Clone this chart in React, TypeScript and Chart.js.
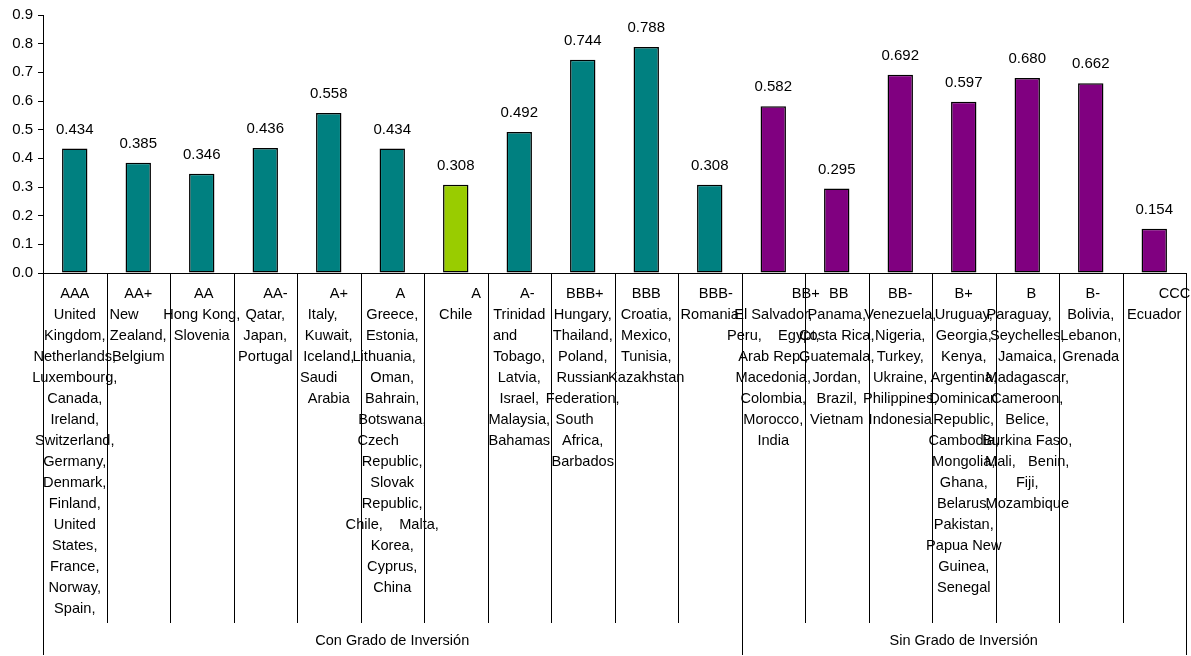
import React, { useEffect, useRef } from 'react';
import { Chart, registerables } from 'chart.js';

Chart.register(...registerables);

// ---- Data ----
const ratings = [
  'AAA', 'AA+', ' AA', '     AA-', '     A+', '    A',
  '          A', '    A-', ' BBB+', 'BBB', '   BBB-',
  '                BB+', ' BB', 'BB-', 'B+', '  B', ' B-', '          CCC',
];

const countries: string[][] = [
  ['United', 'Kingdom,', 'Netherlands,', 'Luxembourg,', 'Canada,', 'Ireland,', 'Switzerland,', 'Germany,', 'Denmark,', 'Finland,', 'United', 'States,', 'France,', 'Norway,', 'Spain,'],
  ['New       ', 'Zealand,', 'Belgium'],
  ['Hong Kong,', 'Slovenia'],
  ['Qatar,', 'Japan,', 'Portugal'],
  ['Italy,   ', 'Kuwait,', 'Iceland,', 'Saudi     ', 'Arabia'],
  ['Greece,', 'Estonia,', 'Lithuania,    ', 'Oman,', 'Bahrain,', 'Botswana,', 'Czech       ', 'Republic,', 'Slovak', 'Republic,', 'Chile,    Malta,', 'Korea,', 'Cyprus,', 'China'],
  ['Chile'],
  ['Trinidad', 'and       ', 'Tobago,', 'Latvia,', 'Israel,', 'Malaysia,', 'Bahamas'],
  ['Hungary,', 'Thailand,', 'Poland,', 'Russian', 'Federation,', 'South    ', 'Africa,', 'Barbados'],
  ['Croatia,', 'Mexico,', 'Tunisia,', 'Kazakhstan'],
  ['Romania'],
  ['El Salvador,', 'Peru,    Egypt,', 'Arab Rep.,', 'Macedonia,', 'Colombia,', 'Morocco,', 'India'],
  ['Panama,', 'Costa Rica,', 'Guatemala,', 'Jordan,', 'Brazil,', 'Vietnam'],
  ['Venezuela,', 'Nigeria,', 'Turkey,', 'Ukraine,', 'Philippines,', 'Indonesia'],
  ['Uruguay,', 'Georgia,', 'Kenya,', 'Argentina,', 'Dominican', 'Republic,', 'Cambodia,', 'Mongolia,', 'Ghana,', 'Belarus,', 'Pakistan,', 'Papua New', 'Guinea,', 'Senegal'],
  ['Paraguay,    ', 'Seychelles,', 'Jamaica,', 'Madagascar,', 'Cameroon,', 'Belice,', 'Burkina Faso,', 'Mali,   Benin,', 'Fiji,', 'Mozambique'],
  ['Bolivia,', 'Lebanon,', 'Grenada'],
  ['Ecuador'],
];

const values = [
  0.434, 0.385, 0.346, 0.436, 0.558, 0.434, 0.308, 0.492, 0.744, 0.788, 0.308,
  0.582, 0.295, 0.692, 0.597, 0.680, 0.662, 0.154,
];

const TEAL = '#008080';
const LIME = '#99CC00';
const PURPLE = '#800080';
const barColors = [
  TEAL, TEAL, TEAL, TEAL, TEAL, TEAL, LIME, TEAL, TEAL, TEAL, TEAL,
  PURPLE, PURPLE, PURPLE, PURPLE, PURPLE, PURPLE, PURPLE,
];

const groupNames = ['Con Grado de Inversión', 'Sin Grado de Inversión'];
const groupSizes = [11, 7];

const FONT = '"Liberation Sans", Arial, sans-serif';

export default function App() {
  const ref = useRef<HTMLCanvasElement>(null);

  useEffect(() => {
    document.body.style.margin = '0';
    if (!ref.current) return;

    const labels = ratings.map((r, i) => [r, ...countries[i]]);

    const valueLabels = {
      id: 'valueLabels',
      afterDatasetsDraw(chart: any) {
        const ctx = chart.ctx;
        const meta = chart.getDatasetMeta(0);
        ctx.save();
        ctx.font = `15px ${FONT}`;
        ctx.fillStyle = '#000';
        ctx.textAlign = 'center';
        ctx.textBaseline = 'middle';
        meta.data.forEach((bar: any, i: number) => {
          ctx.fillText(values[i].toFixed(3), bar.x, bar.y - 19);
        });
        ctx.restore();
      },
    };

    const categoryFrame = {
      id: 'categoryFrame',
      afterDraw(chart: any) {
        const ctx = chart.ctx;
        const xs = chart.scales.x;
        const area = chart.chartArea;
        const n = ratings.length;
        const step = xs.getPixelForValue(1) - xs.getPixelForValue(0);
        const edge = (i: number) => xs.getPixelForValue(i) - step / 2;
        const groupEdges = [0];
        let acc = 0;
        groupSizes.forEach((s) => {
          acc += s;
          groupEdges.push(acc);
        });
        ctx.save();
        ctx.strokeStyle = '#000';
        ctx.lineWidth = 1;
        ctx.beginPath();
        for (let i = 0; i <= n; i++) {
          const px = Math.round(edge(i)) + 0.5;
          const isGroup = groupEdges.includes(i);
          ctx.moveTo(px, area.bottom);
          ctx.lineTo(px, isGroup ? area.bottom + 382 : area.bottom + 350);
        }
        ctx.stroke();
        ctx.font = `14.5px ${FONT}`;
        ctx.fillStyle = '#000';
        ctx.textAlign = 'center';
        ctx.textBaseline = 'middle';
        for (let g = 0; g < groupNames.length; g++) {
          const cx = (edge(groupEdges[g]) + edge(groupEdges[g + 1])) / 2;
          ctx.fillText(groupNames[g], cx, area.bottom + 368);
        }
        ctx.restore();
      },
    };

    const chart = new Chart(ref.current, {
      type: 'bar',
      data: {
        labels,
        datasets: [
          {
            data: values,
            backgroundColor: barColors,
            borderColor: '#000',
            borderWidth: 1.5,
            borderSkipped: false,
            barPercentage: 0.4,
            categoryPercentage: 1,
          },
        ],
      },
      options: {
        responsive: false,
        animation: false,
        devicePixelRatio: 1,
        layout: { padding: { top: 15, right: 5, left: 0, bottom: 0 } },
        plugins: {
          legend: { display: false },
          tooltip: { enabled: false },
        },
        scales: {
          x: {
            grid: { display: false, drawTicks: false },
            border: { display: true, color: '#000', width: 1 },
            ticks: {
              autoSkip: false,
              maxRotation: 0,
              minRotation: 0,
              padding: 10.5,
              color: '#000',
              font: { family: FONT, size: 14.6, lineHeight: 21 / 14.6 },
            },
            afterFit: (s: any) => {
              s.height = 383;
              s.paddingLeft = 0;
              s.paddingRight = 0;
            },
          },
          y: {
            min: 0,
            max: 0.9,
            grid: {
              display: true,
              drawOnChartArea: false,
              drawTicks: true,
              tickLength: 5,
              tickColor: '#000',
            },
            border: { display: true, color: '#000', width: 1 },
            ticks: {
              stepSize: 0.1,
              padding: 5,
              color: '#000',
              font: { family: FONT, size: 15 },
              callback: (v: any) => Number(v).toFixed(1),
            },
            afterFit: (s: any) => {
              s.width = 43;
            },
          },
        },
      },
      plugins: [valueLabels, categoryFrame],
    });

    return () => chart.destroy();
  }, []);

  return (
    <div style={{ width: 1191, height: 656 }}>
      <canvas ref={ref} width={1191} height={656} />
    </div>
  );
}
